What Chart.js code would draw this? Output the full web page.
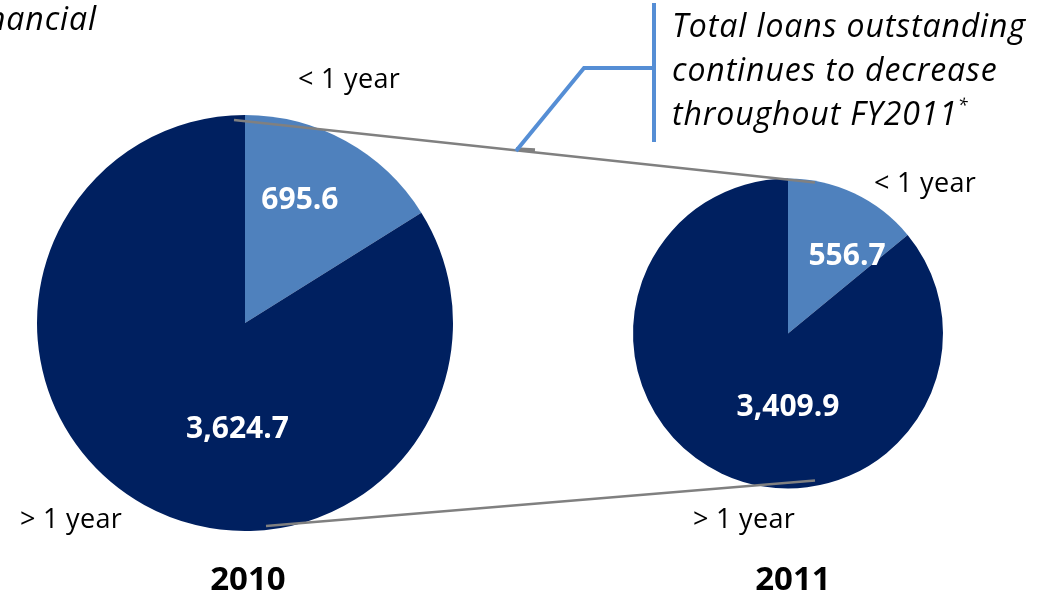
<!DOCTYPE html>
<html>
<head>
<meta charset="utf-8">
<script src="https://cdn.jsdelivr.net/npm/chart.js@4/dist/chart.umd.min.js"></script>
<style>
  html, body { margin: 0; padding: 0; background: #fff; }
  #page { position: relative; width: 1040px; height: 594px; overflow: hidden; font-family: 'Open Sans', sans-serif; color: #000; }
  .pie { position: absolute; top: 0; width: 520px; height: 594px; }
  #overlay { position: absolute; left: 0; top: 0; pointer-events: none; }
  .txt { position: absolute; white-space: nowrap; line-height: 1; }
  .cat { font-size: 27px; letter-spacing: 0.3px; }
  .year { font-size: 33px; font-weight: 700; width: 120px; text-align: center; }
  .note { font-style: italic; font-size: 32px; line-height: 44px; letter-spacing: 0.9px; }
  .note sup { font-size: 18px; vertical-align: 14px; line-height: 0; }
</style>
</head>
<body>
<div id="page">
  <div class="pie" style="left:0"><canvas id="pie-2010"></canvas></div>
  <div class="pie" style="left:520px"><canvas id="pie-2011"></canvas></div>
  <canvas id="overlay" width="1040" height="594"></canvas>

  <div class="txt note" style="right:943px; top:-4px">financial</div>
  <div class="txt note" style="left:672px; top:3px">Total loans outstanding<br>continues to decrease<br>throughout FY2011<sup>*</sup></div>

  <div class="txt cat" style="left:298px; top:64px">&lt; 1 year</div>
  <div class="txt cat" style="left:20px; top:504px">&gt; 1 year</div>
  <div class="txt cat" style="left:874px; top:168px">&lt; 1 year</div>
  <div class="txt cat" style="left:693px; top:504px">&gt; 1 year</div>

  <div class="txt year" style="left:188px; top:561px">2010</div>
  <div class="txt year" style="left:733px; top:561px">2011</div>
</div>

<script>
// montos por plazo (millones)
const years = ['2010', '2011'];
const categories = ['< 1 year', '> 1 year'];
const shortTerm = [695.6, 556.7];
const longTerm = [3624.7, 3409.9];

const colors = ['#4F81BD', '#002060'];

// posición de la etiqueta de valor, como fracción del radio (dx, dy)
const labelOffsets = {
  '2010': [[0.264, -0.591], [-0.036, 0.51]],
  '2011': [[0.381, -0.50], [0.0, 0.474]],
};

const valueLabels = {
  id: 'valueLabels',
  afterDatasetsDraw(chart, args, opts) {
    const { ctx } = chart;
    const meta = chart.getDatasetMeta(0);
    const values = chart.data.datasets[0].data;
    ctx.save();
    ctx.fillStyle = '#fff';
    ctx.font = 'bold 30px "Open Sans", sans-serif';
    ctx.textAlign = 'center';
    ctx.textBaseline = 'middle';
    meta.data.forEach((arc, i) => {
      const [fx, fy] = opts.offsets[i];
      const txt = values[i].toLocaleString('en-US', { minimumFractionDigits: 1, maximumFractionDigits: 1 });
      ctx.fillText(txt, arc.x + fx * arc.outerRadius, arc.y + fy * arc.outerRadius);
    });
    ctx.restore();
  },
};

function makePie(i, padding) {
  const year = years[i];
  return new Chart(document.getElementById('pie-' + year), {
    type: 'pie',
    data: {
      labels: categories,
      datasets: [{ data: [shortTerm[i], longTerm[i]], backgroundColor: colors, borderWidth: 0 }],
    },
    options: {
      responsive: true,
      maintainAspectRatio: false,
      animation: false,
      layout: { padding },
      plugins: {
        legend: { display: false },
        tooltip: { enabled: false },
        valueLabels: { offsets: labelOffsets[year] },
      },
    },
    plugins: [valueLabels],
  });
}

const left = makePie(0, { left: 37, right: 67, top: 115, bottom: 63 });
const right = makePie(1, { left: 113, right: 97, top: 178.5, bottom: 105.5 });

// líneas de conexión entre ambos pasteles + llamada de texto
function drawOverlay() {
  const ctx = document.getElementById('overlay').getContext('2d');
  const a = left.getDatasetMeta(0).data[0];
  const b = right.getDatasetMeta(0).data[0];
  const L = { x: a.x, y: a.y, r: a.outerRadius };
  const R = { x: b.x + 520, y: b.y, r: b.outerRadius };

  ctx.strokeStyle = '#808080';
  ctx.lineWidth = 2.5;
  ctx.beginPath();
  ctx.moveTo(L.x - 11, L.y - L.r + 5);
  ctx.lineTo(R.x + 27, R.y - R.r + 4);
  ctx.moveTo(L.x + 21, L.y + L.r - 5);
  ctx.lineTo(R.x + 27, R.y + R.r - 8);
  ctx.stroke();

  ctx.lineWidth = 3.5;
  ctx.beginPath();
  ctx.moveTo(516, 149);
  ctx.lineTo(535, 150);
  ctx.stroke();

  ctx.strokeStyle = '#558ED5';
  ctx.lineWidth = 4;
  ctx.beginPath();
  ctx.moveTo(654, 3);
  ctx.lineTo(654, 142);
  ctx.moveTo(654, 68);
  ctx.lineTo(584, 68);
  ctx.lineTo(516, 151);
  ctx.stroke();
}
drawOverlay();
</script>
</body>
</html>
